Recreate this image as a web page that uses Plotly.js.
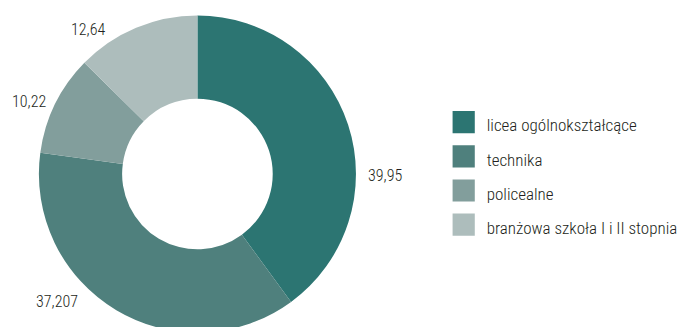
<!DOCTYPE html>
<html>
<head>
<meta charset="utf-8">
<script src="https://cdn.plot.ly/plotly-3.0.1.min.js"></script>
<style>
html,body{margin:0;padding:0;overflow:hidden;background:#fff;width:683px;height:327px;}
#wrap{width:683px;height:327px;overflow:hidden;position:relative;}
#chart{width:683px;height:345px;}
#chart .legend .legendpoints path{transform:translate(17px,0px) scale(1.85);}
</style>
</head>
<body>
<div id="wrap"><div id="chart"></div></div>
<script>
var categories = ['licea ogólnokształcące', 'technika', 'policealne', 'branżowa szkoła I i II stopnia'];
var shares = [39.95, 37.207, 10.22, 12.64];
var colors = ['#2c7572', '#4f807d', '#829e9c', '#adbdbc'];
// where each value label sits (pixels on the 683x345 canvas)
var labelX = [386, 57.5, 29.5, 88];
var labelY = [175.5, 301, 101.5, 29.5];

var FONT = '"Roboto Condensed", "DejaVu Sans Condensed", sans-serif';
var W = 683, H = 345;

function fmt(v) { return String(v).replace('.', ','); }

var trace = {
  type: 'pie',
  labels: categories.map(function(c){ return '<span style="font-size:17px">' + c + '</span>'; }),
  values: shares,
  hole: 0.475,
  sort: false,
  direction: 'clockwise',
  rotation: 0,
  marker: {colors: colors, line: {width: 0}},
  textinfo: 'none',
  domain: {x: [39/W, 357/W], y: [1 - 333/H, 1 - 15/H]},
  hoverinfo: 'none'
};

var annotations = shares.map(function(v, i){
  return {
    xref: 'paper', yref: 'paper',
    x: labelX[i] / W, y: 1 - labelY[i] / H,
    xanchor: 'center', yanchor: 'middle',
    text: fmt(v), showarrow: false,
    font: {family: FONT, size: 16, weight: 300, color: '#231f20'}
  };
});

var layout = {
  width: W,
  height: H,
  margin: {l: 0, r: 0, t: 0, b: 0},
  separators: ', ',
  showlegend: true,
  annotations: annotations,
  legend: {
    x: 448/W, xanchor: 'left',
    y: 1 - 100/H, yanchor: 'top',
    font: {family: FONT, size: 24, weight: 300, color: '#231f20'},
    bgcolor: 'rgba(0,0,0,0)'
  },
  paper_bgcolor: '#ffffff',
  plot_bgcolor: '#ffffff'
};

Plotly.newPlot('chart', [trace], layout, {staticPlot: true, displayModeBar: false});
</script>
</body>
</html>
